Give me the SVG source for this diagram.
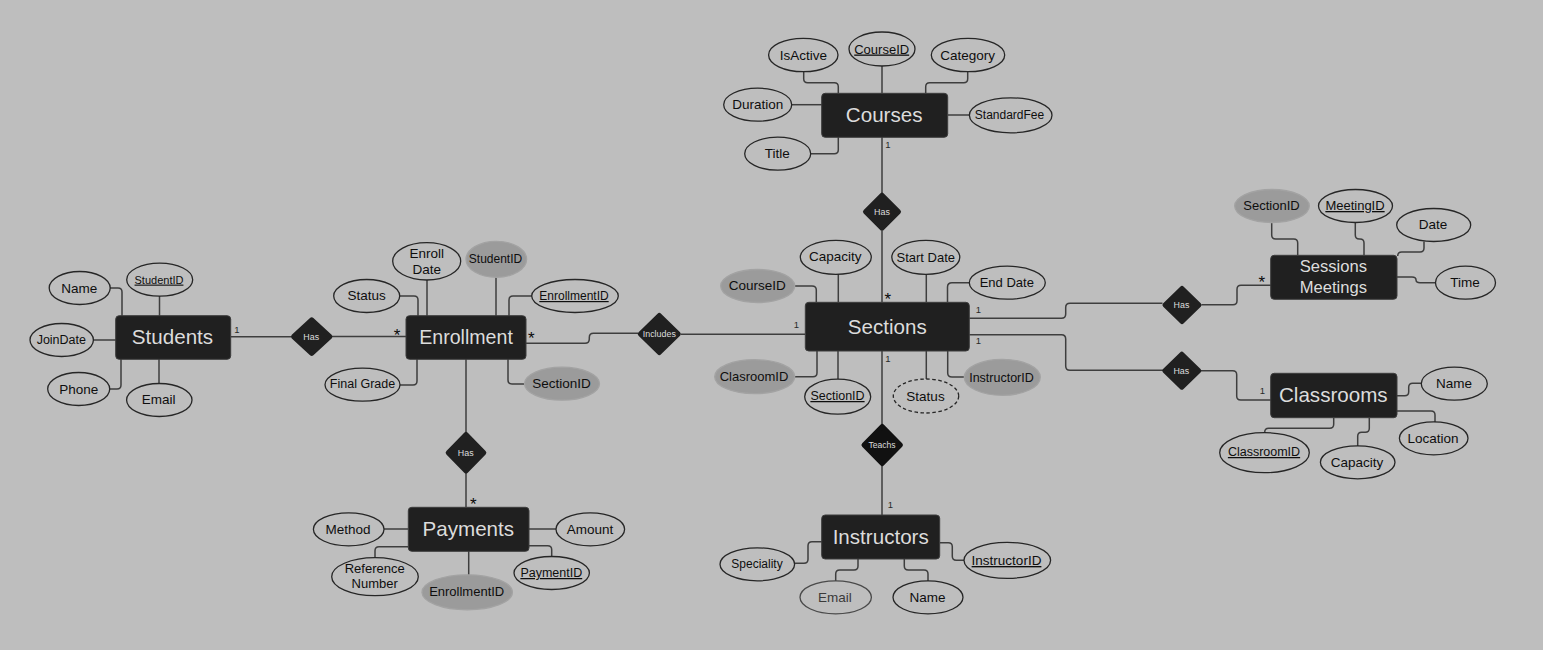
<svg xmlns="http://www.w3.org/2000/svg" width="1543" height="650" viewBox="0 0 1543 650">
<style>
text{font-family:"Liberation Sans",Arial,sans-serif;text-anchor:middle;fill:#0e0e0e}
.ent{fill:#202020;stroke:#3c3c3c;stroke-width:1}
.ent-t{fill:#dcdcdc;font-size:20.6px}
.rel{fill:#202020;stroke:#202020;stroke-width:5;stroke-linejoin:round}
.rel-t{fill:#dcdcdc;font-size:8.9px}
.at{fill:none;stroke:#262626;stroke-width:1.3}
.fk{fill:#9b9b9b;stroke:#a3a3a3;stroke-width:1.3}
.dash{stroke-dasharray:3.5 2.5}
.u{text-decoration:underline}
.s11{font-size:11px}.s12{font-size:12px}.s125{font-size:12.5px}.s13{font-size:13px}.s135{font-size:13.5px}
.c1{font-size:9.500px;fill:#2a2a2a}.cs{font-size:17px;fill:#0a0a0a}
#conn path{fill:none;stroke:#3e3e3e;stroke-width:1.5}
</style>
<rect width="1543" height="650" fill="#bebebe"/>
<g id="conn">
<path d="M110 288H118Q122 288 122 292V316"/>
<path d="M159.5 296V316"/>
<path d="M93 340H116"/>
<path d="M110 389H117Q121 389 121 385V359"/>
<path d="M159 359V383.500"/>
<path d="M231 336.700H291"/>
<path d="M332 336.500H406"/>
<path d="M399.700 296H414Q418 296 418 300V316"/>
<path d="M427 280V316"/>
<path d="M496 277V316"/>
<path d="M531.700 296H513Q509 296 509 300V316"/>
<path d="M400 385H413Q417 385 417 381V359"/>
<path d="M525 384H512Q508 384 508 380V359"/>
<path d="M526 343.300H585Q589.300 343.300 589.300 339V337.500Q589.300 333.300 593.500 333.300H638"/>
<path d="M681 334.300H805"/>
<path d="M466 359V432"/>
<path d="M466 473V507"/>
<path d="M794.700 286H812Q816.300 286 816.300 290V302"/>
<path d="M838.300 274V302"/>
<path d="M882 231V302"/>
<path d="M926.300 274V302"/>
<path d="M969.500 282.700H952Q947.500 282.700 947.500 287V302"/>
<path d="M794.700 376.700H813Q817 376.700 817 372.700V351"/>
<path d="M838 351V379"/>
<path d="M882 351V424"/>
<path d="M926.300 351V379"/>
<path d="M964.300 377H952Q947.700 377 947.700 373V351"/>
<path d="M969.300 318.300H1061.500Q1065.700 318.300 1065.700 314V307.500Q1065.700 303.300 1070 303.300H1162.500"/>
<path d="M969.300 334.700H1061.500Q1065.700 334.700 1065.700 339V366Q1065.700 370.300 1070 370.300H1163"/>
<path d="M1201.500 304.700H1233Q1237 304.700 1237 300.700V289.300Q1237 285.300 1241 285.300H1271"/>
<path d="M1201 370.700H1232.700Q1236.700 370.700 1236.700 374.700V396Q1236.700 400 1240.700 400H1271"/>
<path d="M1271.700 222.500V235Q1271.700 239 1275.700 239H1293.700Q1297.700 239 1297.700 243V255"/>
<path d="M1355.300 222.500V235Q1355.300 239 1359.300 239H1360Q1364 239 1364 243V255"/>
<path d="M1424 241.500V248Q1424 252 1420 252H1401.700Q1397.700 252 1397.700 256"/>
<path d="M1397 277H1412Q1416 277 1416 280V279.700Q1416 282.700 1420 282.700H1435.500"/>
<path d="M1397 395.700H1404.700Q1408.700 395.700 1408.700 391.700V387.300Q1408.700 383.300 1412.700 383.300H1421"/>
<path d="M1397 411H1431Q1435 411 1435 415V422"/>
<path d="M1369.300 418V428.300Q1369.300 432.300 1365.300 432.300H1361.700Q1357.700 432.300 1357.700 436.300V446"/>
<path d="M1333.700 418V424.300Q1333.700 428.300 1329.700 428.300H1268.700Q1264.700 428.300 1264.700 432.300V433"/>
<path d="M803.700 71.700V78.700Q803.700 82.700 807.700 82.700H834.300Q838.300 82.700 838.300 86.700V93"/>
<path d="M882 66V93"/>
<path d="M967.700 71.700V78.700Q967.700 82.700 963.700 82.700H929.700Q925.700 82.700 925.700 86.700V93"/>
<path d="M791.700 104.700H822"/>
<path d="M948 115H969"/>
<path d="M810.700 153.700H834.300Q838.300 153.700 838.300 149.700V137"/>
<path d="M882 137V193"/>
<path d="M384 529H408"/>
<path d="M529 529H556"/>
<path d="M375 557.700V550.700Q375 546.700 379 546.700H408"/>
<path d="M468.700 551V575"/>
<path d="M551.700 556.500V549.700Q551.700 545.700 547.700 545.700H529"/>
<path d="M794.700 563.300H804Q808 563.300 808 559.300V545.700Q808 541.700 812 541.700H822"/>
<path d="M858 559V566Q858 570 854 570H839.700Q835.700 570 835.700 574V581"/>
<path d="M904.300 559V566Q904.300 570 908.300 570H924Q928 570 928 574V581"/>
<path d="M940 542.700H948.300Q952.300 542.700 952.300 546.700V556.300Q952.300 560.300 956.300 560.300H964"/>
<path d="M882 466V515"/>
</g>

<g id="students"><rect class="ent" x="115.700" y="315.700" width="115" height="43.600" rx="3.500"/><text class="ent-t" x="172.500" y="344.300">Students</text></g>
<g id="enrollment"><rect class="ent" x="406" y="315.700" width="120" height="43.600" rx="3.500"/><text class="ent-t" style="font-size:19.600px" x="466" y="344.300">Enrollment</text></g>
<g id="sections"><rect class="ent" x="805.300" y="302.300" width="164" height="48.700" rx="3.500"/><text class="ent-t" x="887.200" y="334">Sections</text></g>
<g id="courses"><rect class="ent" x="821.700" y="93.300" width="126" height="44" rx="3.500"/><text class="ent-t" x="884.200" y="122.300">Courses</text></g>
<g id="sessions"><rect class="ent" x="1270.700" y="255.300" width="126.300" height="44" rx="3.500"/><text class="ent-t" style="font-size:16.600px" x="1333.300" y="272.200">Sessions</text><text class="ent-t" style="font-size:16.600px" x="1333.300" y="292.900">Meetings</text></g>
<g id="classrooms"><rect class="ent" x="1270.700" y="373.300" width="126.300" height="44.400" rx="3.500"/><text class="ent-t" x="1333.300" y="402.300">Classrooms</text></g>
<g id="payments"><rect class="ent" x="408.300" y="507.300" width="120.700" height="44" rx="3.500"/><text class="ent-t" x="468.300" y="536">Payments</text></g>
<g id="instructors"><rect class="ent" x="821.700" y="515" width="118" height="44" rx="3.500"/><text class="ent-t" x="880.700" y="544">Instructors</text></g>

<g id="rel-student-enrollment"><path class="rel" d="M311.700 319.900L329.900 336.700L311.700 353.500L293.500 336.700Z"/><text class="rel-t" x="311.200" y="339.500">Has</text></g>
<g id="rel-includes"><path class="rel" d="M659.300 315.500L678.300 334L659.300 352.500L640.300 334Z"/><text class="rel-t" x="659.300" y="337">Includes</text></g>
<g id="rel-course-section"><path class="rel" d="M882 195.200L898.500 211.700L882 228.200L865.500 211.700Z"/><text class="rel-t" x="882" y="215">Has</text></g>
<g id="rel-teachs"><path class="rel" style="fill:#111;stroke:#111" d="M882.200 426.500L900.400 445L882.200 463.500L864 445Z"/><text class="rel-t" style="font-size:8.600px" x="882" y="447.800">Teachs</text></g>
<g id="rel-payments"><path class="rel" d="M466 434.500L483.800 452.700L466 470.900L448.200 452.700Z"/><text class="rel-t" x="465.700" y="455.700">Has</text></g>
<g id="rel-meetings"><path class="rel" d="M1182 288.500L1199 305L1182 321.500L1165 305Z"/><text class="rel-t" x="1181.500" y="307.500">Has</text></g>
<g id="rel-classrooms"><path class="rel" d="M1181.800 354.200L1198.800 370.700L1181.800 387.200L1164.800 370.700Z"/><text class="rel-t" x="1181.300" y="373.700">Has</text></g>

<g id="st-name"><ellipse class="at" cx="79.700" cy="288" rx="30.500" ry="16.500"/><text class="s135" x="79.300" y="292.800">Name</text></g>
<g id="st-id"><ellipse class="at" cx="159.700" cy="279.700" rx="33" ry="16.500"/><text class="s11 u" x="159" y="283.600">StudentID</text></g>
<g id="st-joindate"><ellipse class="at" cx="61.700" cy="340" rx="31.700" ry="16.500"/><text class="s125" x="61.300" y="344.400">JoinDate</text></g>
<g id="st-phone"><ellipse class="at" cx="78.700" cy="389" rx="31" ry="16.500"/><text class="s135" x="78.700" y="393.800">Phone</text></g>
<g id="st-email"><ellipse class="at" cx="159.300" cy="400" rx="32.700" ry="16.500"/><text class="s135" x="158.700" y="404">Email</text></g>

<g id="en-status"><ellipse class="at" cx="366.700" cy="296" rx="33" ry="16.500"/><text class="s135" x="366.700" y="300">Status</text></g>
<g id="en-date"><ellipse class="at" cx="426.700" cy="261.300" rx="34" ry="18.700"/><text class="s135" x="426.700" y="258">Enroll</text><text class="s135" x="426.700" y="273.800">Date</text></g>
<g id="en-student"><ellipse class="fk" cx="496.300" cy="259.300" rx="30.300" ry="18"/><text class="s12" x="495.500" y="263">StudentID</text></g>
<g id="en-id"><ellipse class="at" cx="575" cy="296" rx="43.300" ry="16.500"/><text class="s12 u" x="574" y="300">EnrollmentID</text></g>
<g id="en-grade"><ellipse class="at" cx="362.500" cy="384.700" rx="37.500" ry="16.500"/><text class="s125" x="362.500" y="388">Final Grade</text></g>
<g id="en-section"><ellipse class="fk" cx="562" cy="383.700" rx="37.500" ry="16.500"/><text class="s135" x="561.500" y="388">SectionID</text></g>

<g id="se-capacity"><ellipse class="at" cx="835.800" cy="257.300" rx="35.500" ry="17"/><text class="s135" x="835.300" y="261.300">Capacity</text></g>
<g id="se-course"><ellipse class="fk" cx="757.700" cy="286" rx="37" ry="16.500"/><text class="s135" x="757.300" y="290">CourseID</text></g>
<g id="se-start"><ellipse class="at" cx="925.800" cy="257.300" rx="34" ry="17"/><text class="s13" x="925.800" y="261.800">Start Date</text></g>
<g id="se-end"><ellipse class="at" cx="1007.300" cy="282.700" rx="38" ry="16.500"/><text class="s13" x="1006.800" y="287">End Date</text></g>
<g id="se-class"><ellipse class="fk" cx="754.700" cy="376.700" rx="40" ry="17"/><text class="s13" x="754" y="381">ClasroomID</text></g>
<g id="se-id"><ellipse class="at" cx="837.700" cy="396.700" rx="33" ry="17.500"/><text class="s125 u" x="837.500" y="400">SectionID</text></g>
<g id="se-status"><ellipse class="at dash" cx="926" cy="396" rx="32.700" ry="17"/><text class="s135" x="925.500" y="400.500">Status</text></g>
<g id="se-instructor"><ellipse class="fk" cx="1002.300" cy="377.300" rx="38" ry="18"/><text class="s125" x="1001.500" y="381.500">InstructorID</text></g>

<g id="co-active"><ellipse class="at" cx="803.300" cy="55" rx="34.700" ry="16.700"/><text class="s135" x="803.500" y="60">IsActive</text></g>
<g id="co-id"><ellipse class="at" cx="882" cy="49" rx="33" ry="17"/><text class="s13 u" x="881.700" y="53.500">CourseID</text></g>
<g id="co-category"><ellipse class="at" cx="968" cy="55" rx="36.700" ry="16.700"/><text class="s135" x="967.700" y="59.500">Category</text></g>
<g id="co-duration"><ellipse class="at" cx="757.700" cy="104.700" rx="34" ry="16.500"/><text class="s135" x="757.700" y="109">Duration</text></g>
<g id="co-fee"><ellipse class="at" cx="1010.700" cy="115.300" rx="41.300" ry="17.500"/><text class="s12" x="1009.500" y="119">StandardFee</text></g>
<g id="co-title"><ellipse class="at" cx="777.700" cy="153.700" rx="33" ry="16.500"/><text class="s135" x="777.300" y="158">Title</text></g>

<g id="me-section"><ellipse class="fk" cx="1272" cy="206" rx="37.300" ry="16.500"/><text class="s13" x="1271.500" y="210">SectionID</text></g>
<g id="me-id"><ellipse class="at" cx="1355.500" cy="206" rx="37" ry="16.500"/><text class="s13 u" x="1355" y="210">MeetingID</text></g>
<g id="me-date"><ellipse class="at" cx="1433.700" cy="225" rx="37" ry="16.500"/><text class="s135" x="1433" y="229">Date</text></g>
<g id="me-time"><ellipse class="at" cx="1465.500" cy="282.700" rx="30" ry="16.500"/><text class="s135" x="1465" y="287">Time</text></g>

<g id="cl-name"><ellipse class="at" cx="1454.300" cy="383.700" rx="33" ry="16.500"/><text class="s135" x="1454" y="388">Name</text></g>
<g id="cl-location"><ellipse class="at" cx="1433.700" cy="438.300" rx="34.300" ry="16.500"/><text class="s135" x="1433" y="443">Location</text></g>
<g id="cl-capacity"><ellipse class="at" cx="1357.700" cy="462.300" rx="37.300" ry="16.500"/><text class="s135" x="1357" y="467">Capacity</text></g>
<g id="cl-id"><ellipse class="at" cx="1264.500" cy="452.700" rx="44.800" ry="20"/><text class="s125 u" x="1264" y="456">ClassroomID</text></g>

<g id="pa-method"><ellipse class="at" cx="348.700" cy="529.300" rx="35.300" ry="16.500"/><text class="s135" x="348" y="534">Method</text></g>
<g id="pa-amount"><ellipse class="at" cx="590.300" cy="529.300" rx="34.300" ry="16.500"/><text class="s135" x="590" y="534">Amount</text></g>
<g id="pa-ref"><ellipse class="at" cx="375" cy="576.700" rx="43.300" ry="19"/><text class="s13" x="374.700" y="573">Reference</text><text class="s13" x="374.700" y="588">Number</text></g>
<g id="pa-enrollment"><ellipse class="fk" cx="467.200" cy="592.300" rx="45.200" ry="17.500"/><text class="s13" x="466.700" y="596">EnrollmentID</text></g>
<g id="pa-id"><ellipse class="at" cx="551.700" cy="573" rx="37.700" ry="16.500"/><text class="s125 u" x="551.300" y="577">PaymentID</text></g>

<g id="in-speciality"><ellipse class="at" cx="757.300" cy="564.300" rx="37.300" ry="16.500"/><text class="s12" x="757" y="567.500">Speciality</text></g>
<g id="in-email"><ellipse class="at" style="stroke:#4a4a4a" cx="835.700" cy="597.300" rx="35.700" ry="16.500"/><text class="s135" style="fill:#3a3a3a" x="835" y="602">Email</text></g>
<g id="in-name"><ellipse class="at" cx="928" cy="597.300" rx="35" ry="16.500"/><text class="s135" x="927.500" y="602">Name</text></g>
<g id="in-id"><ellipse class="at" cx="1007.300" cy="560.300" rx="43.300" ry="18"/><text class="s135 u" x="1006.500" y="565">InstructorID</text></g>

<g id="cardinalities">
<text class="c1" x="237" y="333.400">1</text>
<text class="cs" x="397" y="340.500">*</text>
<text class="cs" x="531.300" y="344">*</text>
<text class="c1" x="796.300" y="328.400">1</text>
<text class="cs" x="887.700" y="305">*</text>
<text class="c1" x="978.300" y="313.400">1</text>
<text class="c1" x="978.300" y="344.100">1</text>
<text class="c1" x="888" y="362.100">1</text>
<text class="cs" x="1261.700" y="288">*</text>
<text class="c1" x="1262.300" y="394.100">1</text>
<text class="c1" x="888" y="148.400">1</text>
<text class="c1" x="890.300" y="508.400">1</text>
<text class="cs" x="473.300" y="510">*</text>
</g>
</svg>
